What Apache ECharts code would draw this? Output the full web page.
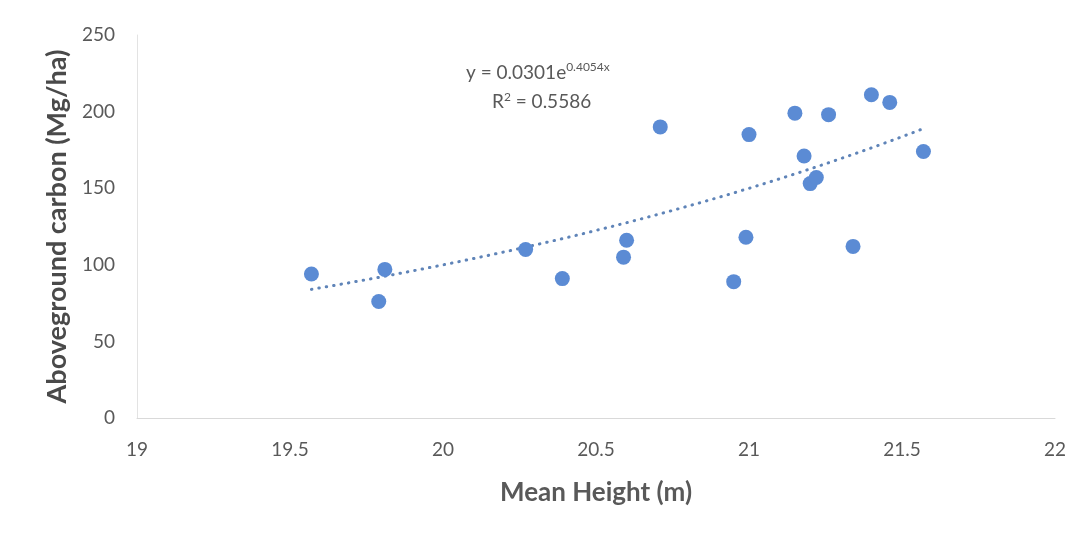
<!DOCTYPE html>
<html>
<head>
<meta charset="utf-8">
<script src="https://cdn.jsdelivr.net/npm/echarts@6/dist/echarts.min.js"></script>
<style>
  html, body { margin: 0; padding: 0; background: #ffffff; }
  #chart { width: 1091px; height: 538px; }
</style>
</head>
<body>
<div id="chart"></div>
<script>
// Mean stand height (m) and aboveground carbon (Mg/ha) per plot
const meanHeight = [19.57, 19.79, 19.81, 20.27, 20.39, 20.59, 20.60, 20.71, 20.95, 20.99,
                    21.00, 21.15, 21.18, 21.20, 21.22, 21.26, 21.34, 21.40, 21.46, 21.57];
const carbon     = [94, 76, 97, 110, 91, 105, 116, 190, 89, 118,
                    185, 199, 171, 153, 157, 198, 112, 211, 206, 174];

// Exponential trendline coefficients: y = a * e^(b x)
const trendA = 0.0301;
const trendB = 0.4054;
const rSquared = 0.5586;

const xTicks = [19, 19.5, 20, 20.5, 21, 21.5, 22];
const yTicks = [0, 50, 100, 150, 200, 250];

const points = meanHeight.map((x, i) => [x, carbon[i]]);

// Trendline spans the range of observed heights
const xMin = Math.min(...meanHeight);
const xMax = Math.max(...meanHeight);
const trend = [];
const steps = 60;
for (let i = 0; i <= steps; i++) {
  const x = xMin + (xMax - xMin) * i / steps;
  trend.push([x, trendA * Math.exp(trendB * x)]);
}

const textColor = '#595959';
const font = 'Lato, "Open Sans", sans-serif';

const chart = echarts.init(document.getElementById('chart'));
chart.setOption({
  backgroundColor: '#ffffff',
  animation: false,
  grid: { left: 137, right: 36, top: 35, bottom: 120 },
  xAxis: {
    type: 'value',
    min: xTicks[0],
    max: xTicks[xTicks.length - 1],
    interval: 0.5,
    name: 'Mean Height (m)',
    nameLocation: 'middle',
    nameGap: 62,
    nameTextStyle: { color: textColor, fontFamily: font, fontSize: 26, fontWeight: 'bold' },
    axisLine: { show: true, lineStyle: { color: '#d9d9d9', width: 1 } },
    axisTick: { show: false },
    splitLine: { show: false },
    axisLabel: {
      color: textColor, fontFamily: font, fontSize: 19, margin: 22,
      formatter: v => String(v)
    }
  },
  yAxis: {
    type: 'value',
    min: yTicks[0],
    max: yTicks[yTicks.length - 1],
    interval: 50,
    name: 'Aboveground carbon (Mg/ha)',
    nameLocation: 'middle',
    nameGap: 64,
    nameTextStyle: { color: '#4a4a4a', fontFamily: font, fontSize: 27, fontWeight: 'bold' },
    axisLine: { show: true, lineStyle: { color: '#e3e3e3', width: 1 } },
    axisTick: { show: false },
    splitLine: { show: false },
    axisLabel: { color: textColor, fontFamily: font, fontSize: 19, margin: 22 }
  },
  series: [
    {
      type: 'line',
      data: trend,
      showSymbol: false,
      symbol: 'none',
      smooth: false,
      lineStyle: { color: '#5f84b8', width: 3, type: [0.5, 7], cap: 'round' },
      z: 2
    },
    {
      type: 'scatter',
      data: points,
      symbol: 'circle',
      symbolSize: 15,
      itemStyle: { color: '#5b8bd4', opacity: 1 },
      z: 3
    }
  ],
  graphic: [
    {
      type: 'text',
      left: 466,
      top: 61,
      style: {
        text: '{m|y = ' + trendA.toFixed(4) + 'e}{s|' + trendB.toFixed(4) + 'x}',
        rich: {
          m: { fontFamily: font, fontSize: 19, fill: textColor, color: textColor },
          s: { fontFamily: font, fontSize: 12, fill: textColor, color: textColor, verticalAlign: 'top', padding: [0, 0, 12, 0] }
        }
      }
    },
    {
      type: 'text',
      left: 492,
      top: 91,
      style: {
        text: '{m|R}{s|2}{m| = ' + rSquared.toFixed(4) + '}',
        rich: {
          m: { fontFamily: font, fontSize: 19, fill: textColor, color: textColor },
          s: { fontFamily: font, fontSize: 12, fill: textColor, color: textColor, verticalAlign: 'top', padding: [0, 0, 10, 0] }
        }
      }
    }
  ]
});
</script>
</body>
</html>
